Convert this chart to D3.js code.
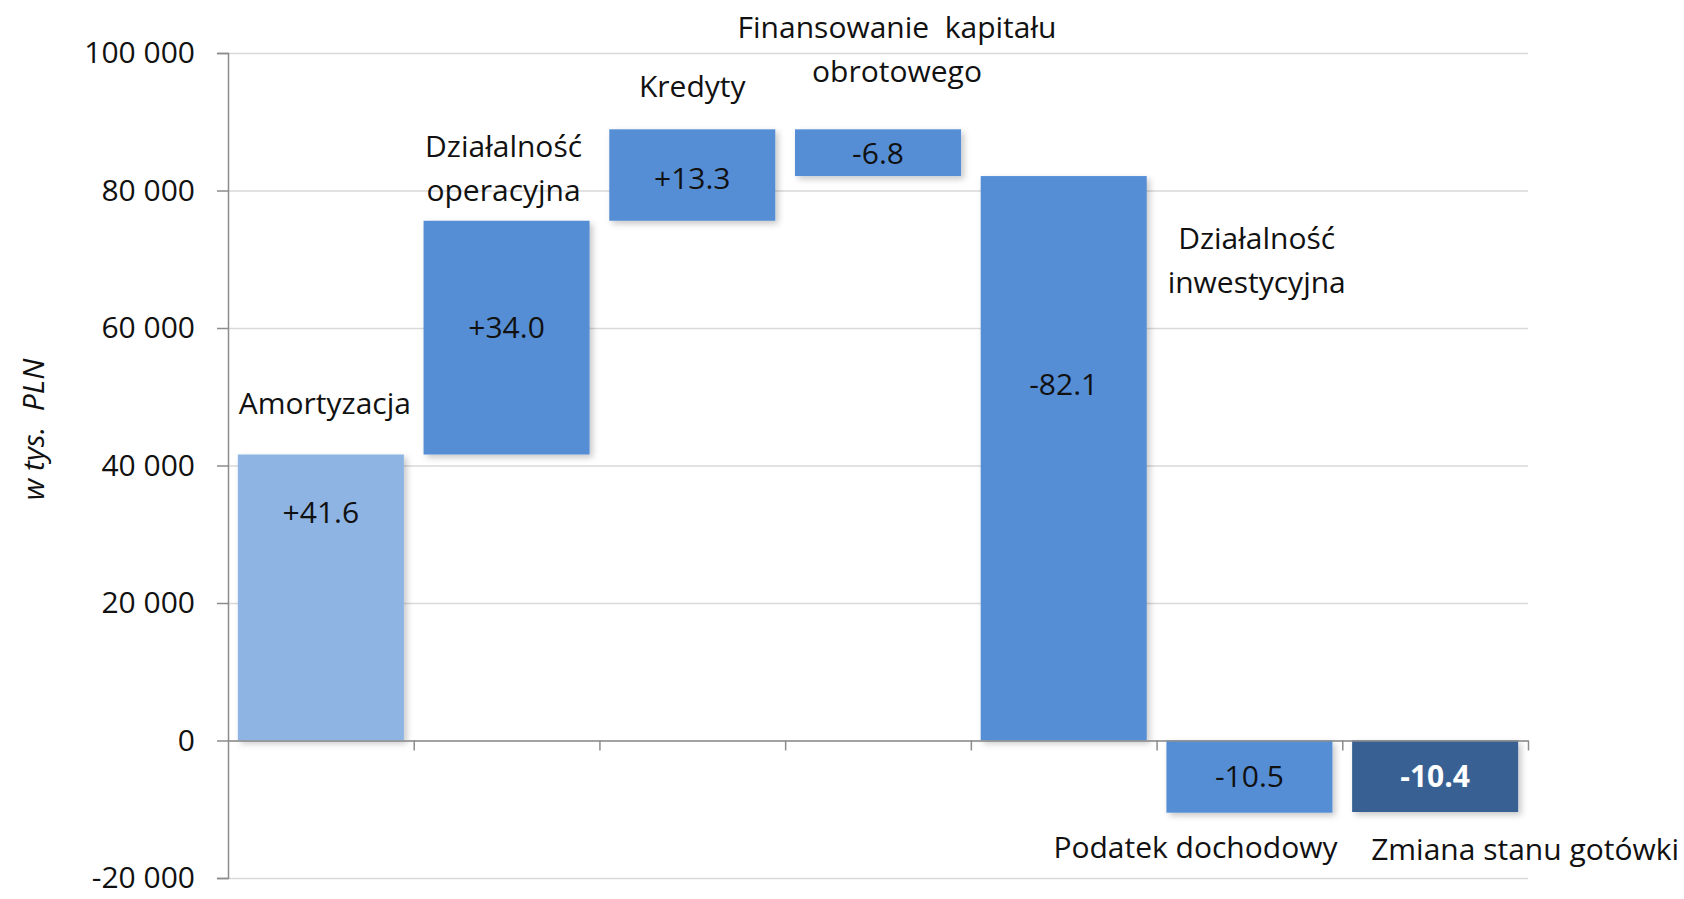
<!DOCTYPE html>
<html>
<head>
<meta charset="utf-8">
<script src="https://cdn.jsdelivr.net/npm/d3@7"></script>
<style>
  body { margin: 0; background: #fff; }
  svg { display: block; font-family: "Open Sans", Lato, sans-serif; }
</style>
</head>
<body>
<svg id="chart" width="1684" height="899"></svg>
<script>
// data (w tys. PLN)
const categories = ["Amortyzacja", "Działalność operacyjna", "Kredyty", "Finansowanie  kapitału obrotowego",
    "Działalność inwestycyjna", "Podatek dochodowy", "Zmiana stanu gotówki"];
const categoryLines = [["Amortyzacja"], ["Działalność", "operacyjna"], ["Kredyty"], ["Finansowanie  kapitału", "obrotowego"],
    ["Działalność", "inwestycyjna"], ["Podatek dochodowy"], ["Zmiana stanu gotówki"]];
const steps = [41600, 34000, 13300, -6800, -82100, -10500];
const total = -10400;
const yTicks = [-20000, 0, 20000, 40000, 60000, 80000, 100000];

// label placement: dx from bar centre (px), y in data units
const catLabelAt = [
    { dx: 4, v: 49000 }, { dx: -3, v: 86400 }, { dx: 0, v: 95200 }, { dx: 19, v: 103700 },
    { dx: 193, v: 73000 }, { dx: -54, v: -15600 }, { dx: 90, v: -15900 }
];
const valueLabelAt = [33200, 60100, 81800, 85400, 51800, -5250, -5200];

const svg = d3.select("#chart");
const margin = { top: 53, right: 156, bottom: 21, left: 228 };
const w = +svg.attr("width"), h = +svg.attr("height");
const width = w - margin.left - margin.right;
const height = h - margin.top - margin.bottom;
const g = svg.append("g").attr("transform", "translate(" + margin.left + "," + margin.top + ")");
const fs = 30;

// build waterfall rows
let run = 0;
const rows = steps.map(function (s, i) {
    const r = { i: i, start: run, end: run + s, value: s };
    run += s;
    return r;
});
rows.push({ i: steps.length, start: 0, end: total, value: total, total: true });

const x = d3.scaleBand().domain(d3.range(categories.length)).range([0, width])
    .paddingInner(0.106).paddingOuter(0.053);
const xEdge = d3.scaleLinear().domain([0, categories.length]).range([0, width]);
const y = d3.scaleLinear().domain([-20000, 100000]).range([height, 0]);

const loc = d3.formatLocale({ decimal: ".", thousands: " ", grouping: [3], currency: ["", ""], minus: "-" });
const fmtTick = loc.format(",");
const fmtVal = loc.format("+.1f");

const color = function (d) {
    if (d.total) return "#376092";
    if (d.i === 0) return "#8eb4e3";
    return "#558ed5";
};

// shadow
const defs = svg.append("defs");
const f = defs.append("filter").attr("id", "shadow").attr("x", "-10%").attr("y", "-10%").attr("width", "130%").attr("height", "130%");
f.append("feDropShadow").attr("dx", 3).attr("dy", 3).attr("stdDeviation", 3)
    .attr("flood-color", "#000").attr("flood-opacity", 0.22);

// gridlines
g.append("g")
    .attr("class", "grid")
    .call(d3.axisLeft(y).tickValues(yTicks).tickSize(-width).tickFormat(""))
    .call(function (s) {
        s.select(".domain").remove();
        s.selectAll("line").attr("stroke", "#d9d9d9").attr("stroke-width", 1.5);
    });

// bars
g.append("g").selectAll("rect")
    .data(rows)
    .enter().append("rect")
    .attr("x", function (d) { return x(d.i); })
    .attr("y", function (d) { return y(Math.max(d.start, d.end)); })
    .attr("width", x.bandwidth())
    .attr("height", function (d) { return Math.abs(y(d.start) - y(d.end)); })
    .attr("fill", color)
    .attr("filter", "url(#shadow)");

// y axis
g.append("g")
    .attr("class", "yaxis")
    .call(d3.axisLeft(y).tickValues(yTicks).tickSize(11).tickPadding(22).tickFormat(fmtTick))
    .call(function (s) {
        s.select(".domain").attr("stroke", "#8c8c8c").attr("stroke-width", 1.5);
        s.selectAll("line").attr("stroke", "#8c8c8c").attr("stroke-width", 1.5);
        s.selectAll("text").attr("font-size", fs).attr("fill", "#111").attr("font-family", "'Open Sans', sans-serif");
    });

// x axis at zero
g.append("g")
    .attr("class", "xaxis")
    .attr("transform", "translate(0," + y(0) + ")")
    .call(d3.axisBottom(xEdge).tickValues(d3.range(1, categories.length + 1)).tickSize(10).tickSizeOuter(0).tickFormat(""))
    .call(function (s) {
        s.select(".domain").attr("stroke", "#8c8c8c").attr("stroke-width", 1.5);
        s.selectAll("line").attr("stroke", "#8c8c8c").attr("stroke-width", 1.5);
    });

// value labels
g.append("g").selectAll("text")
    .data(rows)
    .enter().append("text")
    .attr("x", function (d) { return x(d.i) + x.bandwidth() / 2; })
    .attr("y", function (d) { return y(valueLabelAt[d.i]); })
    .attr("dy", "0.35em")
    .attr("text-anchor", "middle")
    .attr("font-size", fs)
    .attr("font-weight", function (d) { return d.total ? "bold" : "normal"; })
    .attr("fill", function (d) { return d.total ? "#fff" : "#111"; })
    .text(function (d) { return fmtVal(d.value / 1000); });

// category labels
const cl = g.append("g").selectAll("text")
    .data(rows)
    .enter().append("text")
    .attr("text-anchor", "middle")
    .attr("font-size", fs)
    .attr("fill", "#111")
    .style("white-space", "pre")
    .attr("transform", function (d) {
        return "translate(" + (x(d.i) + x.bandwidth() / 2 + catLabelAt[d.i].dx) + "," + y(catLabelAt[d.i].v) + ")";
    });
cl.selectAll("tspan")
    .data(function (d) { return categoryLines[d.i]; })
    .enter().append("tspan")
    .attr("x", 0)
    .attr("y", function (d, i) { return i * 44; })
    .attr("dy", "0.35em")
    .text(function (d) { return d; });

// y title
svg.append("text")
    .attr("transform", "translate(33," + (margin.top + y(40000) - 36) + ") rotate(-90)")
    .attr("text-anchor", "middle")
    .attr("dy", "0.35em")
    .attr("font-size", fs)
    .attr("font-style", "italic")
    .attr("fill", "#111")
    .style("white-space", "pre")
    .text("w tys.  PLN");
</script>
</body>
</html>
